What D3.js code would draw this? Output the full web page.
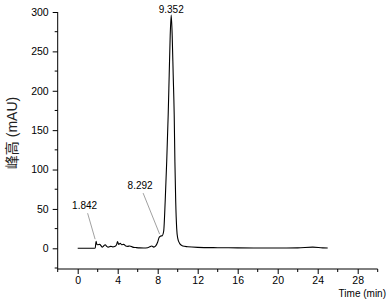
<!DOCTYPE html>
<html>
<head>
<meta charset="utf-8">
<script src="https://cdn.jsdelivr.net/npm/d3@7"></script>
<style>
  body { margin: 0; background: #fff; }
  svg { display: block; }
  text { font-family: "Liberation Sans", Arial, sans-serif; fill: #000; }
</style>
</head>
<body>
<div id="chart"></div>
<script>
// Chromatogram trace (time in min, signal in mAU)
const times = [0, 1.6, 1.75, 1.842, 1.9, 2.0, 2.2, 2.35, 2.45, 2.6, 2.75, 2.9, 3.05, 3.3, 3.5, 3.75, 3.9, 3.98,
  4.1, 4.25, 4.4, 4.6, 4.8, 5.0, 5.2, 5.5, 5.8, 6.2, 6.6, 7.0, 7.2, 7.4, 7.6, 7.8, 8.0, 8.15, 8.292, 8.45,
  8.6, 8.75, 8.9, 9.05, 9.15, 9.25, 9.352, 9.45, 9.55, 9.65, 9.72, 9.8, 9.9, 10.0, 10.2, 10.5, 11, 12,
  14, 16, 20, 22, 23.5, 24.5, 25];
const signal = [0, 0, 0.3, 9, 5.5, 4.5, 5, 3, 1.5, 3, 4.5, 2.5, 1.5, 2.5, 1.8, 2.5, 5, 8.5,
  5, 6.5, 4.5, 5, 3, 2.5, 3, 1.5, 1, 0.5, 0.4, 0.8, 2, 3, 1.5, 3, 8, 14, 15.5, 16,
  22, 60, 110, 170, 220, 270, 296, 270, 220, 170, 110, 60, 25, 13, 6, 3, 2, 1.2,
  0.8, 0.6, 0.4, 0.5, 1.5, 0.5, 0.3];

// Peak annotations
const peakLabels = ["1.842", "8.292", "9.352"];
const peakTimes = [1.842, 8.292, 9.352];
const peakValues = [9, 15.5, 296];

const xTicks = [0, 4, 8, 12, 16, 20, 24, 28];
const yTicks = [0, 50, 100, 150, 200, 250, 300];

const width = 387, height = 302;
const margin = { top: 12, right: 9.3, bottom: 34, left: 57.7 };

const x = d3.scaleLinear().domain([-2, 30]).range([margin.left, width - margin.right]);
const y = d3.scaleLinear().domain([-25, 300]).range([height - margin.bottom, margin.top]);

const svg = d3.select("#chart").append("svg")
    .attr("width", width)
    .attr("height", height);

// x axis: major ticks + minor ticks
const xAxis = svg.append("g")
    .attr("transform", `translate(0,${y.range()[0] + 1})`)
    .call(d3.axisBottom(x).tickValues(xTicks).tickSize(5).tickPadding(3).tickFormat(d3.format("d")));
xAxis.select(".domain").attr("d", `M${x(-2)},0H${x(30)}`);
xAxis.selectAll("text").style("font-size", "10.5px");
svg.append("g")
    .attr("transform", `translate(0,${y.range()[0] + 1})`)
    .selectAll("line")
    .data(d3.range(-2, 31, 4))
    .join("line")
    .attr("x1", d => x(d)).attr("x2", d => x(d))
    .attr("y1", 0).attr("y2", 3)
    .attr("stroke", "#000");

// y axis: major ticks + minor ticks
const yAxis = svg.append("g")
    .attr("transform", `translate(${x(-2)},0)`)
    .call(d3.axisLeft(y).tickValues(yTicks).tickSize(5).tickPadding(4).tickFormat(d3.format("d")));
yAxis.select(".domain").attr("d", `M0,${y(-25) + 1}V${y(300)}`);
yAxis.selectAll("text").style("font-size", "10.5px");
svg.append("g")
    .attr("transform", `translate(${x(-2)},0)`)
    .selectAll("line")
    .data(d3.range(-25, 300, 50))
    .join("line")
    .attr("x1", -3).attr("x2", 0)
    .attr("y1", d => y(d)).attr("y2", d => y(d))
    .attr("stroke", "#000");

// trace
const pts = times.map((t, i) => [t, signal[i]]);
svg.append("path")
    .datum(pts)
    .attr("fill", "none")
    .attr("stroke", "#000")
    .attr("stroke-width", 1.1)
    .attr("d", d3.line().x(d => x(d[0])).y(d => y(d[1])).curve(d3.curveMonotoneX));

// peak labels with leader lines
const labelOffsets = [[-11.5, -32], [-20.5, -47], [0, -2]];
peakLabels.forEach((lab, i) => {
  const px = x(peakTimes[i]), py = y(peakValues[i]);
  const [dx, dy] = labelOffsets[i];
  svg.append("text")
      .attr("x", px + dx).attr("y", py + dy)
      .attr("text-anchor", "middle")
      .style("font-size", "10px")
      .text(lab);
  if (i < 2) {
    svg.append("line")
        .attr("x1", px + dx + 3).attr("y1", py + dy + 4)
        .attr("x2", px - 1).attr("y2", py - 2)
        .attr("stroke", "#888")
        .attr("stroke-width", 0.8);
  }
});

// axis titles
svg.append("text")
    .attr("transform", `translate(17,${(y(300) + y(-25)) / 2 - 7}) rotate(-90)`)
    .attr("text-anchor", "middle")
    .style("font-size", "14px")
    .style("fill", "#222")
    .style("font-family", "'Liberation Sans', 'Noto Sans CJK SC', sans-serif")
    .text("峰高 (mAU)");

svg.append("text")
    .attr("x", width - 1).attr("y", height - 5)
    .attr("text-anchor", "end")
    .style("font-size", "10px")
    .text("Time (min)");
</script>
</body>
</html>
